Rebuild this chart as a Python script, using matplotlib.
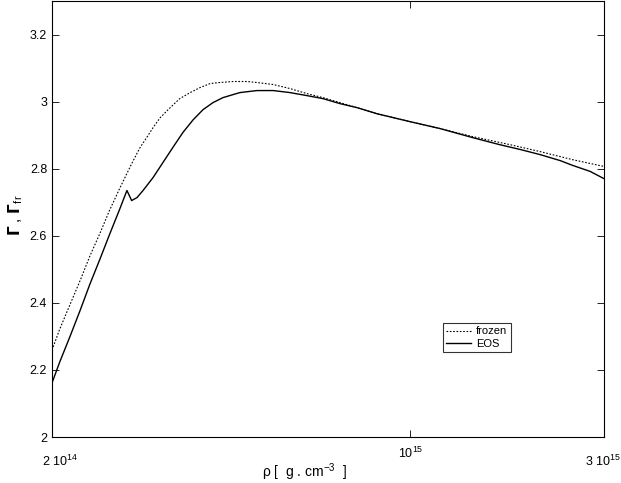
import numpy as np
import matplotlib
matplotlib.use("Agg")
import matplotlib.pyplot as plt

plt.rcParams['font.family'] = ['Liberation Sans', 'DejaVu Sans']
plt.rcParams['mathtext.default'] = 'regular'

# densidad (g/cm^3) y Gamma congelado
rho_frozen = [2.00e14, 2.07e14, 2.17e14, 2.27e14, 2.37e14, 2.48e14, 2.59e14, 2.71e14,
              2.80e14, 2.88e14, 2.97e14, 3.06e14, 3.15e14, 3.25e14, 3.40e14, 3.55e14,
              3.72e14, 3.89e14, 4.07e14, 4.25e14, 4.51e14, 4.80e14, 5.02e14, 5.40e14,
              5.82e14, 6.28e14, 6.75e14, 7.29e14, 7.87e14, 8.60e14, 1.00e15, 1.14e15,
              1.32e15, 1.56e15, 1.79e15, 2.07e15, 2.38e15]
gamma_frozen = [2.259, 2.321, 2.396, 2.467, 2.539, 2.607, 2.676, 2.741,
                2.786, 2.824, 2.863, 2.893, 2.923, 2.952, 2.982, 3.009,
                3.027, 3.042, 3.054, 3.057, 3.060, 3.060, 3.057, 3.051,
                3.039, 3.024, 3.012, 2.997, 2.982, 2.964, 2.940, 2.920,
                2.896, 2.872, 2.851, 2.827, 2.807]

# densidad y Gamma de la EOS
rho_eos = [2.00e14, 2.07e14, 2.17e14, 2.27e14, 2.37e14, 2.48e14, 2.59e14, 2.71e14,
           2.80e14, 2.83e14, 2.86e14, 2.93e14, 3.01e14, 3.15e14, 3.29e14, 3.44e14,
           3.60e14, 3.77e14, 3.94e14, 4.12e14, 4.31e14, 4.51e14, 4.65e14, 5.02e14,
           5.40e14, 5.82e14, 6.28e14, 6.75e14, 7.29e14, 7.87e14, 8.60e14, 1.00e15,
           1.14e15, 1.32e15, 1.49e15, 1.64e15, 1.79e15, 1.96e15, 2.07e15, 2.24e15,
           2.38e15]
gamma_eos = [2.161, 2.223, 2.301, 2.378, 2.455, 2.530, 2.604, 2.679,
             2.735, 2.720, 2.705, 2.714, 2.735, 2.774, 2.818, 2.863,
             2.908, 2.946, 2.976, 2.997, 3.012, 3.021, 3.027, 3.033,
             3.033, 3.027, 3.018, 3.009, 2.994, 2.982, 2.964, 2.940,
             2.920, 2.893, 2.872, 2.857, 2.842, 2.824, 2.810, 2.792,
             2.771]

fig = plt.figure(figsize=(6.21, 4.83), dpi=100)
ax = fig.add_axes([0.0837, 0.0952, 0.8889, 0.9027])

ax.plot(rho_frozen, gamma_frozen, color='black', linestyle=(0, (1.5, 1.5)), linewidth=0.8, label='frozen')
ax.plot(rho_eos, gamma_eos, color='black', linewidth=1.0, label='EOS')

ax.set_xscale('log')
ax.set_xlim(2e14, 2.384e15)
ax.set_ylim(2, 3.3)
ax.set_yticks([2, 2.2, 2.4, 2.6, 2.8, 3, 3.2])
ax.set_yticklabels(['2', '2.2', '2.4', '2.6', '2.8', '3', '3.2'])
ax.set_xticks([1e15])
ax.set_xticklabels(['10$^{15}$'])
ax.xaxis.set_minor_locator(matplotlib.ticker.NullLocator())
ax.tick_params(direction='in', length=5, width=0.6, labelsize=9, top=True, right=True)
ax.tick_params(axis='x', pad=6)
for s in ax.spines.values():
    s.set_linewidth(0.8)

fig.text(0.0966, 0.035, '2 10$^{14}$', fontsize=9, ha='center')
fig.text(0.999, 0.035, '3 10$^{15}$', fontsize=9, ha='right')
fig.text(0.49, 0.012, 'ρ [  g . cm$^{-3}$  ]', fontsize=10, ha='center')
fig.text(0.025, 0.555, r'$\mathbf{\Gamma}$ , $\mathbf{\Gamma}_{f\,r}$', fontsize=11,
         rotation=90, ha='center', va='center')

leg = ax.legend(loc='lower left', bbox_to_anchor=(0.708, 0.195), fontsize=8,
                frameon=True, fancybox=False, edgecolor='black', handlelength=2.2,
                borderpad=0.3, labelspacing=0.2, handletextpad=0.5, borderaxespad=0)
leg.get_frame().set_linewidth(0.8)

fig.savefig('out.png', dpi=100)
